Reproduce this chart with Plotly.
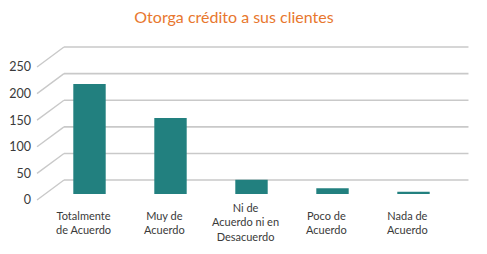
import plotly.graph_objects as go

categories = ["Totalmente<br>de Acuerdo", "Muy de<br>Acuerdo",
              "Ni de<br>Acuerdo ni en<br>Desacuerdo", "Poco de<br>Acuerdo",
              "Nada de<br>Acuerdo"]
values = [207, 143, 27, 11, 4]
tick_values = [0, 50, 100, 150, 200, 250]
tick_labels = ["0", "50", "100", "150", "200", "250"]
title_text = "Otorga crédito a sus clientes"
y_max = 250

# page body has an 8px margin; work in page pixels and convert
OFF = 8
W, H = 487 - OFF, 254 - OFF
ML = 49 - OFF
MT = 60.5 - OFF
plot_bottom = 194 - OFF
MB = H - plot_bottom
MR = W - (454.5 - OFF)
plot_w = W - ML - MR
plot_h = H - MT - MB

def px_to_paper_x(px_page):
    return (px_page - OFF - ML) / plot_w

def value_to_paper_y(v, shift_px=0):
    # same linear mapping as the y axis, plus a pixel shift (up = positive)
    return v / y_max + shift_px / plot_h

BAR = "#22807F"
GRID = "#C9C9C9"
TXT = "#3A3A3A"
FONT = "Lato"

fig = go.Figure()
fig.add_trace(go.Bar(x=list(range(len(categories))), y=values,
                     marker=dict(color=BAR, line=dict(width=0)),
                     hoverinfo="skip"))

shapes = []
for v in tick_values:
    # back-wall gridline
    shapes.append(dict(type="line", layer="below", xref="paper", yref="paper",
                       x0=px_to_paper_x(64), x1=px_to_paper_x(469),
                       y0=value_to_paper_y(v, 14), y1=value_to_paper_y(v, 14),
                       line=dict(color=GRID, width=1.6)))
    # side-wall diagonal
    shapes.append(dict(type="line", layer="below", xref="paper", yref="paper",
                       x0=px_to_paper_x(37), x1=px_to_paper_x(64),
                       y0=value_to_paper_y(v, -6), y1=value_to_paper_y(v, 14),
                       line=dict(color=GRID, width=1.4)))

annotations = []
for i, c in enumerate(categories):
    annotations.append(dict(x=i, xref="x", y=0, yref="paper", yanchor="middle",
                            yshift=-28, xshift=-6, text=c, showarrow=False,
                            align="center",
                            font=dict(family=FONT, size=11, color=TXT)))

fig.update_layout(
    width=W, height=H,
    margin=dict(l=ML, r=MR, t=MT, b=MB, pad=0, autoexpand=False),
    paper_bgcolor="white", plot_bgcolor="rgba(0,0,0,0)",
    showlegend=False,
    bargap=0.6,
    title=dict(text=title_text, xref="container", yref="container",
               x=(234 - OFF) / W, xanchor="center", y=1 - (17 - OFF) / H,
               yanchor="middle", automargin=False,
               font=dict(family=FONT, size=16, color="#E8772E")),
    xaxis=dict(range=[-0.5, len(categories) - 0.5], showticklabels=False,
               showgrid=False, zeroline=False, showline=False, ticks="",
               automargin=False),
    yaxis=dict(range=[0, y_max], tickvals=tick_values, ticktext=tick_labels,
               showgrid=False, zeroline=False, showline=False, ticks="",
               ticklabelstandoff=17, ticklabelshift=6, automargin=False,
               tickfont=dict(family=FONT, size=12.5, color=TXT)),
    shapes=shapes,
    annotations=annotations,
)

fig.write_html("out.html")
